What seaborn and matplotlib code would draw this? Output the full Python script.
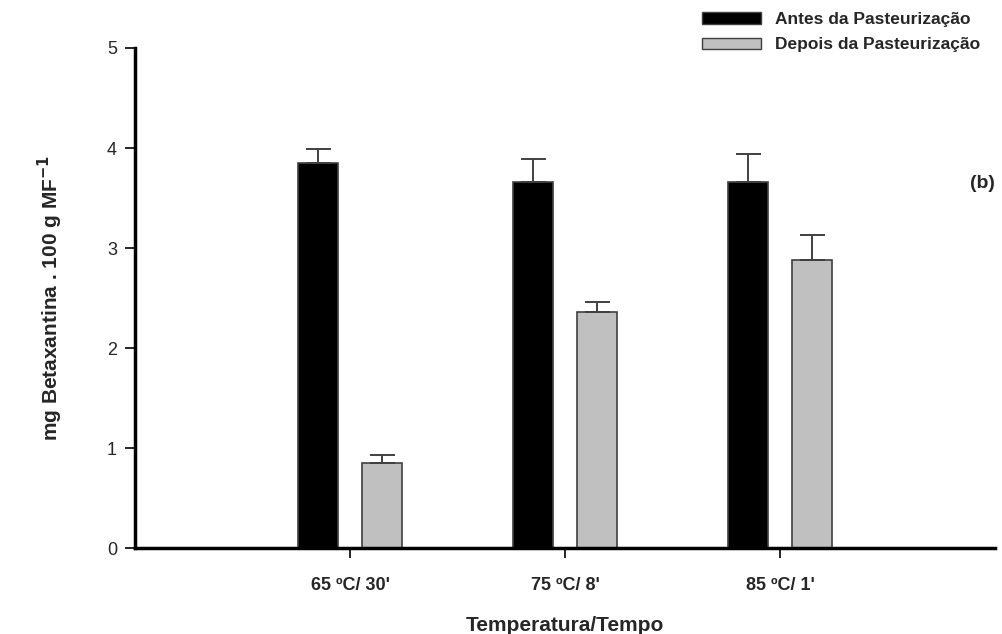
import pandas as pd
import numpy as np
import matplotlib
matplotlib.use("Agg")
import matplotlib.pyplot as plt
import seaborn as sns
from matplotlib.patches import Patch

# Data
condicoes = ["65 ºC/ 30'", "75 ºC/ 8'", "85 ºC/ 1'"]
grupos = ["Antes da Pasteurização", "Depois da Pasteurização"]
antes = [3.85, 3.66, 3.66]
antes_err = [0.14, 0.23, 0.28]
depois = [0.85, 2.36, 2.88]
depois_err = [0.08, 0.10, 0.25]

df = pd.DataFrame({
    "cond": condicoes * 2,
    "grupo": [grupos[0]] * 3 + [grupos[1]] * 3,
    "val": antes + depois,
    "err": antes_err + depois_err,
})

sns.set_style("ticks")
plt.rcParams['font.family'] = ['Liberation Sans', 'DejaVu Sans']

fig = plt.figure(figsize=(10.03, 6.34), dpi=100)
ax = fig.add_axes([0.1346, 0.1356, 0.8574, 0.7887])

cores = ["black", "#c0c0c0"]
sns.barplot(data=df, x="cond", y="val", hue="grupo", hue_order=grupos,
            palette=cores, width=0.6, gap=0.38, errorbar=None,
            edgecolor="#404040", linewidth=1.2, saturation=1, legend=False, ax=ax)

# upper-only error bars at bar centers
bars = [p for p in ax.patches][:len(df)]
for p, e in zip(bars, df["err"]):
    xc = p.get_x() + p.get_width() / 2
    h = p.get_height()
    ax.errorbar(xc, h, yerr=[[0], [e]], fmt="none", ecolor="#404040",
                elinewidth=1.4, capsize=9, capthick=1.4, zorder=3)

ax.set_xlim(-1, 3)
ax.set_ylim(0, 5)
ax.set_yticks([0, 1, 2, 3, 4, 5])
ax.set_yticklabels(["0", "1", "2", "3", "4", "5"], fontsize=13)
ax.set_xticks([0, 1, 2])
ax.set_xticklabels(condicoes, fontsize=13, fontweight="bold")
ax.tick_params(axis="both", direction="out", length=7, width=1.2, color="black", pad=6)
ax.tick_params(axis="x", pad=14)
for s in ["top", "right"]:
    ax.spines[s].set_visible(False)
for s in ["left", "bottom"]:
    ax.spines[s].set_linewidth(2.5)
    ax.spines[s].set_color("black")

ax.set_xlabel("Temperatura/Tempo", fontsize=15, fontweight="bold", labelpad=16)
ax.set_ylabel("mg Betaxantina . 100 g MF$^{\\mathbf{-1}}$", fontsize=15, fontweight="bold", labelpad=30)

ax.text(1.0, 0.73, "(b)", transform=ax.transAxes, fontsize=14, fontweight="bold",
        ha="right", va="center")

handles = [Patch(facecolor=c, edgecolor="#404040", linewidth=1) for c in cores]
fig.legend(handles, grupos, loc="upper right", bbox_to_anchor=(980 / 1003, 1 - 12 / 634),
           frameon=False, handlelength=3.4, handleheight=0.65, handletextpad=0.8,
           borderpad=0, borderaxespad=0, labelspacing=0.6,
           prop={"weight": "bold", "size": 12.5})

fig.savefig("out.png", dpi=100)
